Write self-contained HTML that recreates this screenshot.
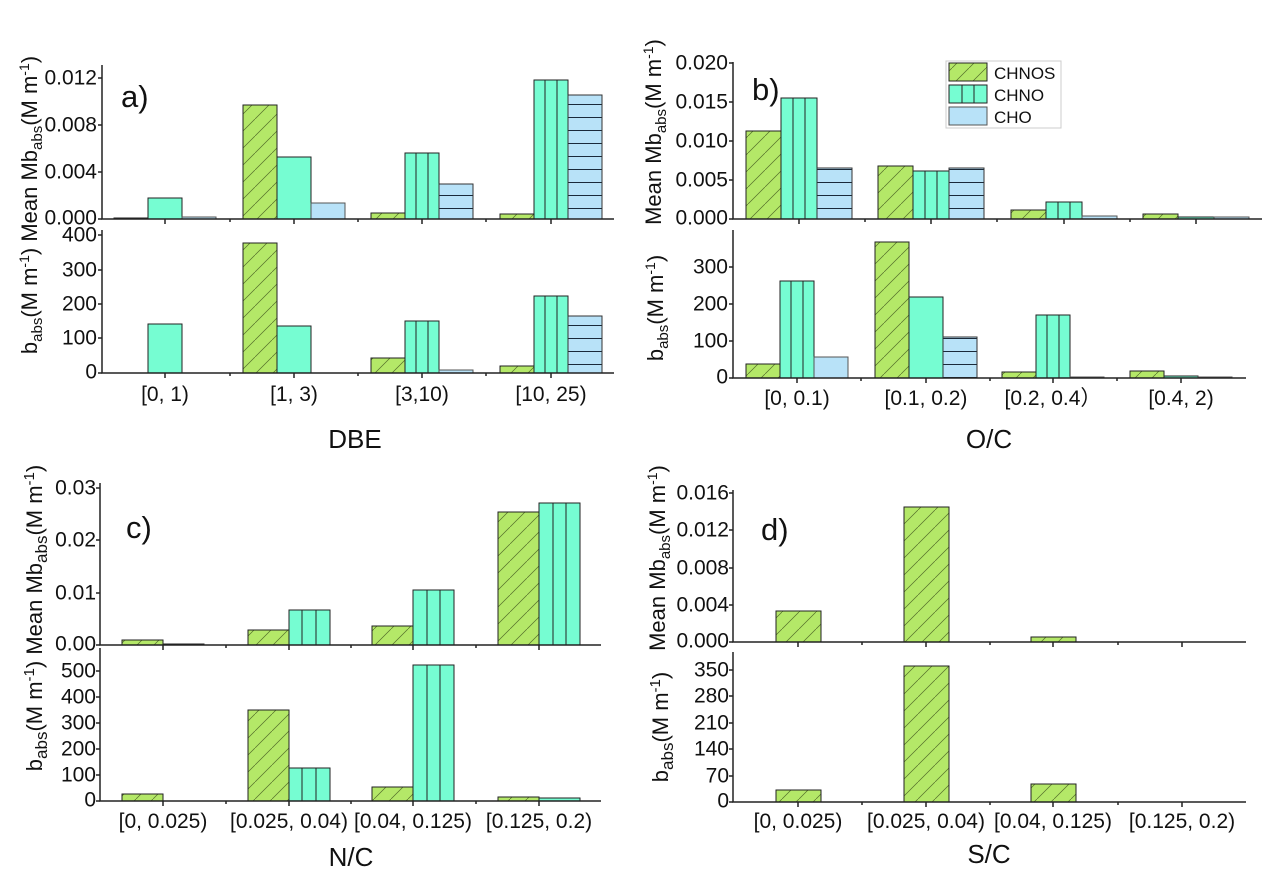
<!DOCTYPE html>
<html><head><meta charset="utf-8"><style>
html,body{margin:0;padding:0;background:#fff;}
svg{display:block;font-family:"Liberation Sans",sans-serif;}
</style></head><body>
<svg width="1270" height="887" viewBox="0 0 1270 887" xmlns="http://www.w3.org/2000/svg">
<defs>
<pattern id="pg" patternUnits="userSpaceOnUse" width="17" height="17">
<rect width="17" height="17" fill="#b4e868"/>
<path d="M-1,18 L18,-1" stroke="#2a3a10" stroke-width="0.7" opacity="0.7"/>
</pattern>
<pattern id="pb" patternUnits="userSpaceOnUse" width="10" height="13">
<rect width="10" height="13" fill="#b8e2f8"/>
<line x1="0" y1="0.5" x2="10" y2="0.5" stroke="#1a2a3a" stroke-width="1"/>
</pattern>
</defs>
<style>
.g{fill:url(#pg);stroke:#222;stroke-width:1}
.c{fill:#76fdd2;stroke:#222;stroke-width:1}
.b{fill:url(#pb);stroke:#333;stroke-width:1}
.bp{fill:#b8e2f8;stroke:#555;stroke-width:1}
.ax{stroke:#222;stroke-width:1.5;fill:none}
.t{font-size:22px;fill:#111}
.tl{font-size:21px;fill:#111;text-anchor:end;dominant-baseline:middle}
.xl{font-size:21px;fill:#111;text-anchor:middle}
.tt{font-size:26px;fill:#111;text-anchor:middle}
.pl{font-size:31px;fill:#111}
.vl{stroke:#222;stroke-width:1}
</style>

<!-- ============ Panel a ============ -->
<g>
<rect class="g" x="114" y="218" width="34" height="1"/>
<rect class="c" x="148" y="198" width="34" height="21"/>
<rect class="bp" x="182" y="217" width="34" height="2"/>
<rect class="g" x="243" y="105" width="34" height="114"/>
<rect class="c" x="277" y="157" width="34" height="62"/>
<rect class="bp" x="311" y="203" width="34" height="16"/>
<rect class="g" x="371" y="213" width="34" height="6"/>
<rect class="c" x="405" y="153" width="34" height="66"/>
<line class="vl" x1="416" y1="153" x2="416" y2="219"/><line class="vl" x1="428" y1="153" x2="428" y2="219"/>
<rect class="b" x="439" y="184" width="34" height="35"/>
<rect class="g" x="500" y="214" width="34" height="5"/>
<rect class="c" x="534" y="80" width="34" height="139"/>
<line class="vl" x1="545" y1="80" x2="545" y2="219"/><line class="vl" x1="557" y1="80" x2="557" y2="219"/>
<rect class="b" x="568" y="95" width="34" height="124"/>
<rect class="c" x="148" y="324" width="34" height="49"/>
<rect class="g" x="243" y="243" width="34" height="130"/>
<rect class="c" x="277" y="326" width="34" height="47"/>
<rect class="g" x="371" y="358" width="34" height="15"/>
<rect class="c" x="405" y="321" width="34" height="52"/>
<line class="vl" x1="416" y1="321" x2="416" y2="373"/><line class="vl" x1="428" y1="321" x2="428" y2="373"/>
<rect class="bp" x="439" y="370" width="34" height="3"/>
<rect class="g" x="500" y="366" width="34" height="7"/>
<rect class="c" x="534" y="296" width="34" height="77"/>
<line class="vl" x1="545" y1="296" x2="545" y2="373"/><line class="vl" x1="557" y1="296" x2="557" y2="373"/>
<rect class="b" x="568" y="316" width="34" height="57"/>
<path class="ax" d="M102,65 V219 H614 M102,230 V373 H614"/>
<path class="ax" d="M165,219 v5 M294,219 v5 M422,219 v5 M551,219 v5 M230,219 v3 M358,219 v3 M486,219 v3 M165,373 v5 M294,373 v5 M422,373 v5 M551,373 v5 M230,373 v3 M358,373 v3 M486,373 v3"/>
<path class="ax" d="M98,78 h4 M98,125 h4 M98,172 h4 M98,219 h4 M98,235 h4 M98,270 h4 M98,304 h4 M98,338 h4 M98,373 h4"/>
<text class="tl" x="97" y="79">0.012</text><text class="tl" x="97" y="126">0.008</text><text class="tl" x="97" y="173">0.004</text><text class="tl" x="97" y="219">0.000</text>
<text class="tl" x="97" y="236">400</text><text class="tl" x="97" y="271">300</text><text class="tl" x="97" y="305">200</text><text class="tl" x="97" y="339">100</text><text class="tl" x="97" y="373">0</text>
<text class="xl" x="165" y="401">[0, 1)</text><text class="xl" x="294" y="401">[1, 3)</text><text class="xl" x="422" y="401">[3,10)</text><text class="xl" x="551" y="401">[10, 25)</text>
<text class="tt" x="355" y="448">DBE</text>
<text class="pl" x="121" y="107">a)</text>
<text class="t" transform="translate(37,205) rotate(-90)" text-anchor="middle">b<tspan font-size="15" dy="5">abs</tspan><tspan dy="-5">(M m</tspan><tspan font-size="14" dy="-8">-1</tspan><tspan dy="8">) Mean Mb</tspan><tspan font-size="15" dy="5">abs</tspan><tspan dy="-5">(M m</tspan><tspan font-size="14" dy="-8">-1</tspan><tspan dy="8">)</tspan></text>
</g>

<!-- ============ Panel b ============ -->
<g>
<rect class="g" x="746" y="131" width="35" height="88"/>
<rect class="c" x="781" y="98" width="36" height="121"/>
<line class="vl" x1="793" y1="98" x2="793" y2="219"/><line class="vl" x1="805" y1="98" x2="805" y2="219"/>
<rect class="b" x="817" y="168" width="35" height="51"/>
<rect class="g" x="878" y="166" width="35" height="53"/>
<rect class="c" x="913" y="171" width="36" height="48"/>
<line class="vl" x1="925" y1="171" x2="925" y2="219"/><line class="vl" x1="937" y1="171" x2="937" y2="219"/>
<rect class="b" x="949" y="168" width="35" height="51"/>
<rect class="g" x="1011" y="210" width="35" height="9"/>
<rect class="c" x="1046" y="202" width="36" height="17"/>
<line class="vl" x1="1058" y1="202" x2="1058" y2="219"/><line class="vl" x1="1070" y1="202" x2="1070" y2="219"/>
<rect class="bp" x="1082" y="216" width="35" height="3"/>
<rect class="g" x="1143" y="214" width="35" height="5"/>
<rect class="c" x="1178" y="217" width="36" height="2"/>
<rect class="bp" x="1214" y="217" width="35" height="2"/>
<rect class="g" x="746" y="364" width="34" height="14"/>
<rect class="c" x="780" y="281" width="34" height="97"/>
<line class="vl" x1="791" y1="281" x2="791" y2="378"/><line class="vl" x1="803" y1="281" x2="803" y2="378"/>
<rect class="bp" x="814" y="357" width="34" height="21"/>
<rect class="g" x="875" y="242" width="34" height="136"/>
<rect class="c" x="909" y="297" width="34" height="81"/>
<rect class="b" x="943" y="337" width="34" height="41"/>
<rect class="g" x="1002" y="372" width="34" height="6"/>
<rect class="c" x="1036" y="315" width="34" height="63"/>
<line class="vl" x1="1047" y1="315" x2="1047" y2="378"/><line class="vl" x1="1059" y1="315" x2="1059" y2="378"/>
<rect class="bp" x="1070" y="377" width="34" height="1"/>
<rect class="g" x="1130" y="371" width="34" height="7"/>
<rect class="c" x="1164" y="376" width="34" height="2"/>
<rect class="bp" x="1198" y="377" width="34" height="1"/>
<path class="ax" d="M733,62 V219 H1262 M733,230 V378 H1246"/>
<path class="ax" d="M799,219 v5 M931,219 v5 M1064,219 v5 M1196,219 v5 M865,219 v3 M997,219 v3 M1130,219 v3 M797,378 v5 M926,378 v5 M1053,378 v5 M1181,378 v5 M861,378 v3 M990,378 v3 M1117,378 v3"/>
<path class="ax" d="M729,63 h4 M729,102 h4 M729,141 h4 M729,180 h4 M729,219 h4 M729,267 h4 M729,304 h4 M729,341 h4 M729,378 h4"/>
<text class="tl" x="728" y="64">0.020</text><text class="tl" x="728" y="103">0.015</text><text class="tl" x="728" y="142">0.010</text><text class="tl" x="728" y="181">0.005</text><text class="tl" x="728" y="219">0.000</text>
<text class="tl" x="728" y="268">300</text><text class="tl" x="728" y="305">200</text><text class="tl" x="728" y="342">100</text><text class="tl" x="728" y="378">0</text>
<text class="xl" x="797" y="405">[0, 0.1)</text><text class="xl" x="926" y="405">[0.1, 0.2)</text><text class="xl" x="1053" y="405">[0.2, 0.4）</text><text class="xl" x="1181" y="405">[0.4, 2)</text>
<text class="tt" x="989" y="448">O/C</text>
<text class="pl" x="752" y="100">b)</text>
<text class="t" transform="translate(661,132) rotate(-90)" text-anchor="middle">Mean Mb<tspan font-size="15" dy="5">abs</tspan><tspan dy="-5">(M m</tspan><tspan font-size="14" dy="-8">-1</tspan><tspan dy="8">)</tspan></text>
<text class="t" transform="translate(663,308) rotate(-90)" text-anchor="middle">b<tspan font-size="15" dy="5">abs</tspan><tspan dy="-5">(M m</tspan><tspan font-size="14" dy="-8">-1</tspan><tspan dy="8">)</tspan></text>
<rect x="946" y="61" width="115" height="67" fill="#fff" stroke="#ccc" stroke-width="1"/>
<rect class="g" x="949" y="63" width="38" height="18"/>
<rect class="c" x="949" y="85" width="38" height="18"/>
<line class="vl" x1="962" y1="85" x2="962" y2="103"/><line class="vl" x1="974" y1="85" x2="974" y2="103"/>
<rect class="bp" x="949" y="107" width="38" height="18"/>
<text x="994" y="79" font-size="17" fill="#111">CHNOS</text>
<text x="994" y="101" font-size="17" fill="#111">CHNO</text>
<text x="994" y="123" font-size="17" fill="#111">CHO</text>
</g>

<!-- ============ Panel c ============ -->
<g>
<rect class="g" x="122" y="640" width="41" height="5"/>
<rect class="c" x="163" y="644" width="41" height="1"/>
<rect class="g" x="248" y="630" width="41" height="15"/>
<rect class="c" x="289" y="610" width="41" height="35"/>
<line class="vl" x1="302" y1="610" x2="302" y2="645"/><line class="vl" x1="316" y1="610" x2="316" y2="645"/>
<rect class="g" x="372" y="626" width="41" height="19"/>
<rect class="c" x="413" y="590" width="41" height="55"/>
<line class="vl" x1="427" y1="590" x2="427" y2="645"/><line class="vl" x1="440" y1="590" x2="440" y2="645"/>
<rect class="g" x="498" y="512" width="41" height="133"/>
<rect class="c" x="539" y="503" width="41" height="142"/>
<line class="vl" x1="553" y1="503" x2="553" y2="645"/><line class="vl" x1="566" y1="503" x2="566" y2="645"/>
<rect class="g" x="122" y="794" width="41" height="7"/>
<rect class="g" x="248" y="710" width="41" height="91"/>
<rect class="c" x="289" y="768" width="41" height="33"/>
<line class="vl" x1="302" y1="768" x2="302" y2="801"/><line class="vl" x1="316" y1="768" x2="316" y2="801"/>
<rect class="g" x="372" y="787" width="41" height="14"/>
<rect class="c" x="413" y="665" width="41" height="136"/>
<line class="vl" x1="427" y1="665" x2="427" y2="801"/><line class="vl" x1="440" y1="665" x2="440" y2="801"/>
<rect class="g" x="498" y="797" width="41" height="4"/>
<rect class="c" x="539" y="798" width="41" height="3"/>
<path class="ax" d="M100,483 V645 H601 M100,648 V801 H601"/>
<path class="ax" d="M163,645 v5 M289,645 v5 M413,645 v5 M539,645 v5 M226,645 v3 M351,645 v3 M476,645 v3 M163,801 v5 M289,801 v5 M413,801 v5 M539,801 v5 M226,801 v3 M351,801 v3 M476,801 v3"/>
<path class="ax" d="M96,488 h4 M96,540 h4 M96,593 h4 M96,645 h4 M96,671 h4 M96,697 h4 M96,723 h4 M96,749 h4 M96,775 h4 M96,801 h4"/>
<text class="tl" x="96" y="489">0.03</text><text class="tl" x="96" y="541">0.02</text><text class="tl" x="96" y="594">0.01</text><text class="tl" x="96" y="645">0.00</text>
<text class="tl" x="96" y="672">500</text><text class="tl" x="96" y="698">400</text><text class="tl" x="96" y="724">300</text><text class="tl" x="96" y="750">200</text><text class="tl" x="96" y="776">100</text><text class="tl" x="96" y="801">0</text>
<text class="xl" x="163" y="828">[0, 0.025)</text><text class="xl" x="289" y="828">[0.025, 0.04)</text><text class="xl" x="413" y="828">[0.04, 0.125)</text><text class="xl" x="539" y="828">[0.125, 0.2)</text>
<text class="tt" x="351" y="866">N/C</text>
<text class="pl" x="126" y="538">c)</text>
<text class="t" transform="translate(42,618) rotate(-90)" text-anchor="middle" font-size="23">b<tspan font-size="17" dy="5">abs</tspan><tspan dy="-5">(M m</tspan><tspan font-size="15" dy="-8">-1</tspan><tspan dy="8">) Mean Mb</tspan><tspan font-size="17" dy="5">abs</tspan><tspan dy="-5">(M m</tspan><tspan font-size="15" dy="-8">-1</tspan><tspan dy="8">)</tspan></text>
</g>

<!-- ============ Panel d ============ -->
<g>
<rect class="g" x="776" y="611" width="45" height="31"/>
<rect class="g" x="904" y="507" width="45" height="135"/>
<rect class="g" x="1031" y="637" width="45" height="5"/>
<rect class="g" x="776" y="790" width="45" height="12"/>
<rect class="g" x="904" y="666" width="45" height="136"/>
<rect class="g" x="1031" y="784" width="45" height="18"/>
<path class="ax" d="M733,490 V642 H1246 M733,652 V802 H1246"/>
<path class="ax" d="M798,642 v5 M926,642 v5 M1053,642 v5 M1182,642 v5 M862,642 v3 M990,642 v3 M1118,642 v3 M798,802 v5 M926,802 v5 M1053,802 v5 M1182,802 v5 M862,802 v3 M990,802 v3 M1118,802 v3"/>
<path class="ax" d="M729,493 h4 M729,530 h4 M729,568 h4 M729,605 h4 M729,642 h4 M729,670 h4 M729,696 h4 M729,723 h4 M729,749 h4 M729,776 h4 M729,802 h4"/>
<text class="tl" x="729" y="494">0.016</text><text class="tl" x="729" y="531">0.012</text><text class="tl" x="729" y="569">0.008</text><text class="tl" x="729" y="606">0.004</text><text class="tl" x="729" y="642">0.000</text>
<text class="tl" x="729" y="671">350</text><text class="tl" x="729" y="697">280</text><text class="tl" x="729" y="724">210</text><text class="tl" x="729" y="750">140</text><text class="tl" x="729" y="777">70</text><text class="tl" x="729" y="802">0</text>
<text class="xl" x="798" y="828">[0, 0.025)</text><text class="xl" x="926" y="828">[0.025, 0.04)</text><text class="xl" x="1053" y="828">[0.04, 0.125)</text><text class="xl" x="1182" y="828">[0.125, 0.2)</text>
<text class="tt" x="989" y="863">S/C</text>
<text class="pl" x="761" y="540">d)</text>
<text class="t" transform="translate(665,558) rotate(-90)" text-anchor="middle">Mean Mb<tspan font-size="15" dy="5">abs</tspan><tspan dy="-5">(M m</tspan><tspan font-size="14" dy="-8">-1</tspan><tspan dy="8">)</tspan></text>
<text class="t" transform="translate(668,727) rotate(-90)" text-anchor="middle" font-size="23">b<tspan font-size="17" dy="5">abs</tspan><tspan dy="-5">(M m</tspan><tspan font-size="15" dy="-8">-1</tspan><tspan dy="8">)</tspan></text>
</g>
</svg>
</body></html>
